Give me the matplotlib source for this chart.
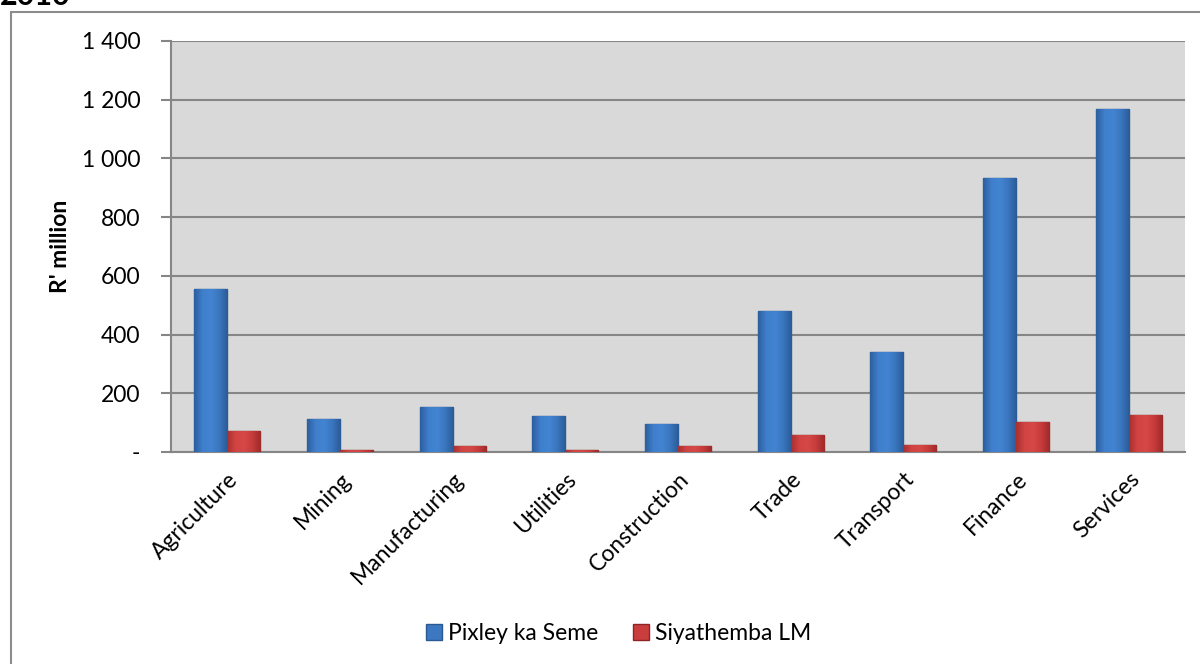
import matplotlib
matplotlib.use("Agg")
import matplotlib.pyplot as plt
from matplotlib.patches import Rectangle
from matplotlib.lines import Line2D
from matplotlib.ticker import FuncFormatter
from matplotlib.colors import LinearSegmentedColormap
import numpy as np

categories = ["Agriculture", "Mining", "Manufacturing", "Utilities", "Construction",
              "Trade", "Transport", "Finance", "Services"]
pixley = [555, 112, 152, 121, 95, 480, 340, 933, 1168]
siyathemba = [71, 7, 21, 7, 19, 58, 23, 102, 126]
series_names = ["Pixley ka Seme", "Siyathemba LM"]
y_ticks = [0, 200, 400, 600, 800, 1000, 1200, 1400]

plt.rcParams['font.family'] = ['Lato', 'DejaVu Sans']
FS = 16.5

fig = plt.figure(figsize=(12, 6.64), dpi=100)
ax = fig.add_axes([0.1425, 0.3193, 0.845, 0.619])
ax.set_facecolor("#d9d9d9")

x = np.arange(len(categories))
w = 0.293
blue, blue_edge = "#3c78c2", "#2a5890"
red, red_edge = "#c93d3d", "#8e2424"
b1 = ax.bar(x - w / 2, pixley, width=w, color=blue, edgecolor=blue_edge, linewidth=1, zorder=3,
            label=series_names[0])
b2 = ax.bar(x + w / 2, siyathemba, width=w, color=red, edgecolor=red_edge, linewidth=1, zorder=3,
            label=series_names[1])

cm_blue = LinearSegmentedColormap.from_list("b", ["#2d5f9e", "#3f7fcc", "#4384d2", "#3a76be", "#2b5b97"])
cm_red = LinearSegmentedColormap.from_list("r", ["#a92f2f", "#d24444", "#d64848", "#c63b3b", "#9e2a2a"])
grad = np.linspace(0, 1, 64).reshape(1, -1)
for bars, cmap in ((b1, cm_blue), (b2, cm_red)):
    for p in bars:
        x0, y0 = p.get_x(), p.get_y()
        im = ax.imshow(grad, cmap=cmap, aspect="auto", zorder=3.5,
                       extent=(x0, x0 + p.get_width(), y0, y0 + p.get_height()))
        im.set_clip_path(p)

ax.set_xlim(-0.5, len(categories) - 0.5)
ax.set_ylim(0, 1400)
ax.set_yticks(y_ticks)
ax.yaxis.set_major_formatter(FuncFormatter(
    lambda v, p: "-" if v == 0 else f"{int(v):,}".replace(",", " ")))
ax.grid(axis="y", color="#868686", linewidth=1.5, zorder=1)
ax.set_axisbelow(True)
for s in ["top", "right"]:
    ax.spines[s].set_visible(False)
for s in ["left", "bottom"]:
    ax.spines[s].set_color("#868686")
    ax.spines[s].set_linewidth(1.5)
ax.tick_params(axis="y", length=7, width=1.5, color="#868686", labelsize=FS, pad=15)
ax.tick_params(axis="x", length=0, labelsize=FS, pad=12)
ax.set_xticks(x)
ax.set_xticklabels(categories, rotation=45, ha="right", rotation_mode="anchor")
ax.set_ylabel("R' million", fontsize=FS, fontweight="bold", labelpad=8)

handles = [Line2D([], [], marker="s", linestyle="none", markersize=11,
                  markerfacecolor=blue, markeredgecolor=blue_edge),
           Line2D([], [], marker="s", linestyle="none", markersize=11,
                  markerfacecolor=red, markeredgecolor=red_edge)]
fig.legend(handles, series_names, loc="center", bbox_to_anchor=(0.515, 1 - 634 / 664),
           ncol=2, frameon=False, fontsize=FS, handlelength=0.8, handletextpad=0.2,
           columnspacing=1.5)

# outer chart frame
fig.add_artist(Rectangle((11 / 1200, -0.01), 1.2, 1 - 12 / 664 + 0.01, transform=fig.transFigure,
                         fill=False, edgecolor="#8c8c8c", linewidth=1.5))
fig.text(0.0, 1 - 5 / 664, "2010", fontsize=22, fontweight="bold", va="baseline", ha="left")

fig.savefig("out.png", dpi=100, facecolor="white")
